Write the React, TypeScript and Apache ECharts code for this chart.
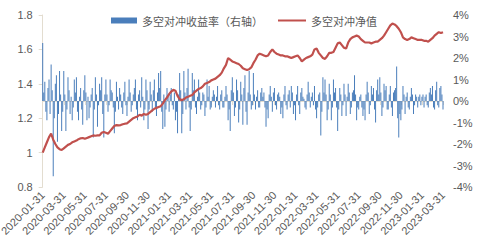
import React, { useEffect, useRef } from "react";
import * as echarts from "echarts";

const tickLabels = [
  "2020-01-31", "2020-03-31", "2020-05-31", "2020-07-31", "2020-09-30", "2020-11-30",
  "2021-01-31", "2021-03-31", "2021-05-31", "2021-07-31", "2021-09-30", "2021-11-30",
  "2022-01-31", "2022-03-31", "2022-05-31", "2022-07-31", "2022-09-30", "2022-11-30",
  "2023-01-31", "2023-03-31",
];
const barsPerLabel = 20;
const navPerLabel = 10;

const barName = "多空对冲收益率（右轴）";
const lineName = "多空对冲净值";

// hedge return, % (right axis); one row per two months
const hedgeReturn = [
  2.7, 0.4, 0.9, -0.5, -0.9, 0.6, 1.0, -0.6, 1.7, 0.5, -3.5, -0.8, 0.8, 1.2, -1.9, -0.6, 1.4, 0.3, -1.4, -0.5,
  1.4, 0.3, -1.4, -0.4, 1.1, 0.5, -0.6, 0.2, -0.9, -0.3, 1.0, 0.4, 1.1, -0.5, -0.9, 0.2, 0.6, -0.4, -1.1, 0.5,
  1.2, 0.4, -0.9, 0.2, -0.8, -0.3, 0.3, 0.6, -1.7, -0.4, 1.1, 0.3, -1.2, -0.2, 0.8, 0.5, 1.1, -0.6, -1.7, 0.3,
  1.0, 0.3, -0.5, -0.2, 1.0, 0.5, 0.4, -0.3, -1.5, -0.5, 0.9, 0.2, -0.4, 0.6, 0.3, -0.3, -0.6, 0.4, 0.9, -0.2,
  -0.7, 0.2, 1.0, 0.4, -0.5, -0.2, 0.3, 0.6, 1.0, -0.4, -0.9, 0.3, 0.5, -0.3, 1.1, 0.2, -0.9, -0.4, 1.0, 0.5,
  -1.3, -0.4, 0.9, 0.3, -0.5, 0.5, 1.0, -0.3, -0.7, 0.4, 1.3, 0.6, 1.4, -0.5, -1.3, 0.3, -1.2, -0.4, 0.6, 0.2,
  -0.5, 0.3, 0.6, -0.2, -0.4, 0.4, -0.9, -0.5, -1.5, 0.3, 1.3, 0.5, -1.5, -0.6, 1.4, 0.4, -0.4, 0.6, 1.5, -0.3,
  -1.4, -0.4, 1.3, 0.5, 1.0, -0.3, -0.6, 0.2, 1.0, 0.4, -0.4, -0.2, 0.4, 0.3, -0.7, -0.3, 1.0, 0.2, 0.7, -0.4,
  -0.3, 0.2, 0.5, 0.3, -0.3, 0.2, 0.7, -0.2, -0.4, 0.3, 0.5, -0.3, -0.3, 0.2, 0.7, 0.3, -0.9, -0.4, -1.4, 0.5,
  1.1, 0.4, -0.7, -0.3, 1.0, 0.5, -1.0, -0.4, 0.9, 0.3, -1.1, 0.6, 1.2, -0.5, -1.1, 0.4, 1.4, 0.3, -0.4, -0.2,
  1.3, 0.3, -0.4, 0.2, 0.5, -0.3, -0.3, 0.4, 0.6, 0.2, 0.4, -0.3, -1.2, -0.4, -0.8, 0.3, 0.7, 0.2, -0.5, 0.4,
  0.6, -0.2, -0.4, 0.3, 0.4, 0.2, -0.6, -0.3, -0.8, 0.3, 0.7, -0.2, -0.4, 0.3, 0.5, -0.3, 0.7, 0.4, -0.6, -0.2,
  -0.9, 0.3, 0.7, -0.2, -0.6, 0.4, 0.6, 0.2, 0.1, -0.3, -0.4, 0.3, 0.9, 0.4, -0.3, 0.2, 0.4, -0.2, 0.7, -0.4,
  -0.8, -0.3, 0.3, 0.4, -1.6, -0.5, 1.1, 0.4, 1.0, 0.3, -0.9, -0.4, 0.8, 0.3, -0.9, -0.3, 1.0, 0.4, 0.6, -0.3,
  -1.4, -0.4, 0.6, 0.3, -0.7, -0.2, 0.8, 0.3, -0.7, 0.2, 0.8, 0.4, -0.6, -0.3, 0.4, 0.5, 1.2, 0.3, -0.9, -0.3,
  -0.4, 0.2, 0.3, -0.3, -0.7, -0.4, -0.9, 0.3, 0.9, 0.4, -0.6, -0.2, 0.7, 0.3, 0.6, -0.4, -1.0, 0.5, 1.0, 0.3,
  1.1, 0.4, -0.7, -0.3, 0.8, 0.5, 0.7, -0.4, -0.4, 0.3, 0.7, -0.3, -0.7, 0.4, 0.5, 0.6, 1.6, -0.8, -1.7, -0.6,
  -0.9, -0.4, 0.7, 0.3, -0.6, 0.2, 0.4, -0.3, -0.4, 0.2, 0.6, 0.3, -0.6, -0.2, 0.3, 0.2, -0.3, 0.2, 0.3, -0.2,
  0.2, 0.3, -0.3, 0.2, 0.3, -0.2, -0.3, 0.4, 0.6, 0.3, 0.7, -0.3, -0.4, 0.5, 0.9, -0.2, -0.3, 0.6, 0.7, 0.3,
  -0.4,
];

// hedge net value (left axis); one row per two months
const hedgeNav = [
  1.0, 1.03, 1.06, 1.09, 1.11, 1.075, 1.05, 1.03, 1.02, 1.015,
  1.025, 1.035, 1.045, 1.05, 1.06, 1.065, 1.07, 1.078, 1.083, 1.085,
  1.08, 1.085, 1.09, 1.095, 1.1, 1.098, 1.1, 1.1, 1.115, 1.12,
  1.115, 1.11, 1.125, 1.14, 1.155, 1.16, 1.158, 1.16, 1.165, 1.168,
  1.17, 1.18, 1.19, 1.2, 1.205, 1.21, 1.22, 1.215, 1.225, 1.22,
  1.225, 1.235, 1.245, 1.255, 1.26, 1.265, 1.27, 1.285, 1.305, 1.32,
  1.34, 1.355, 1.365, 1.36, 1.33, 1.31, 1.305, 1.31, 1.32, 1.325,
  1.33, 1.335, 1.35, 1.36, 1.37, 1.375, 1.385, 1.4, 1.405, 1.41,
  1.42, 1.425, 1.43, 1.44, 1.45, 1.465, 1.49, 1.51, 1.55, 1.54,
  1.53, 1.525, 1.52, 1.515, 1.505, 1.49, 1.485, 1.48, 1.485, 1.495,
  1.52, 1.54, 1.565, 1.575, 1.57, 1.565, 1.56, 1.565, 1.585, 1.6,
  1.585, 1.575, 1.57, 1.565, 1.565, 1.56, 1.56, 1.555, 1.55, 1.555,
  1.56, 1.565, 1.55, 1.53, 1.54, 1.55, 1.555, 1.56, 1.57, 1.6,
  1.605, 1.58, 1.565, 1.55, 1.545, 1.56, 1.58, 1.58, 1.585, 1.61,
  1.635, 1.64, 1.625, 1.61, 1.605, 1.64, 1.66, 1.67, 1.675, 1.68,
  1.675, 1.66, 1.65, 1.64, 1.64, 1.64, 1.635, 1.64, 1.645, 1.645,
  1.655, 1.665, 1.68, 1.7, 1.72, 1.74, 1.75, 1.745, 1.735, 1.72,
  1.7, 1.67, 1.66, 1.655, 1.66, 1.67, 1.665, 1.66, 1.655, 1.655,
  1.655, 1.65, 1.65, 1.645, 1.655, 1.665, 1.68, 1.69, 1.7, 1.695,
  1.7,
];

const barCategories = hedgeReturn.map((_, i) =>
  i % barsPerLabel === 0 ? tickLabels[i / barsPerLabel] : ""
);
const navCategories = hedgeNav.map((_, i) =>
  i % navPerLabel === 0 ? tickLabels[i / navPerLabel] : ""
);

const axisColor = "#E3DDD0";
const textColor = "#595959";
const fontFamily = "Arial, 'Liberation Sans', sans-serif";
const cjkFont = "'Noto Sans CJK SC', sans-serif";

export default function App() {
  const ref = useRef<HTMLDivElement>(null);
  useEffect(() => {
    if (!ref.current) return;
    const chart = echarts.init(ref.current, null, { renderer: "svg" });
    chart.setOption({
      animation: false,
      backgroundColor: "#ffffff",
      textStyle: { fontFamily },
      legend: [
        {
          data: [barName],
          left: 106,
          top: 10,
          icon: "rect",
          itemWidth: 26,
          itemHeight: 6,
          textStyle: { color: textColor, fontSize: 11, fontFamily: cjkFont },
        },
        {
          data: [lineName],
          left: 273,
          top: 10,
          icon: "rect",
          itemWidth: 28,
          itemHeight: 2,
          textStyle: { color: textColor, fontSize: 11, fontFamily: cjkFont },
        },
      ],
      grid: {
        left: 42.7,
        right: 37,
        top: 15,
        bottom: 59,
        containLabel: false,
        outerBoundsMode: "none",
      },
      xAxis: [
        {
          type: "category",
          data: barCategories,
          boundaryGap: false,
          axisLine: { show: true, lineStyle: { color: axisColor, width: 1 } },
          axisTick: { show: true, interval: barsPerLabel - 1, length: 4, lineStyle: { color: axisColor } },
          axisLabel: {
            interval: barsPerLabel - 1,
            rotate: 45,
            color: textColor,
            fontSize: 11,
            margin: 6,
          },
          splitLine: { show: false },
        },
        {
          type: "category",
          data: navCategories,
          boundaryGap: false,
          show: false,
        },
      ],
      yAxis: [
        {
          type: "value",
          min: 0.8,
          max: 1.8,
          interval: 0.2,
          axisLine: { show: true, lineStyle: { color: axisColor } },
          axisTick: { show: true, length: 4, lineStyle: { color: axisColor } },
          axisLabel: { color: textColor, fontSize: 11, margin: 10 },
          splitLine: { show: false },
        },
        {
          type: "value",
          min: -4,
          max: 4,
          interval: 1,
          position: "right",
          axisLine: { show: false },
          axisTick: { show: false },
          axisLabel: { color: textColor, fontSize: 11, margin: 10, formatter: "{value}%" },
          splitLine: { show: false },
        },
      ],
      series: [
        {
          name: barName,
          type: "bar",
          xAxisIndex: 0,
          yAxisIndex: 1,
          data: hedgeReturn,
          barWidth: 1,
          itemStyle: { color: "#4A7EBB" },
          z: 2,
        },
        {
          name: lineName,
          type: "line",
          xAxisIndex: 1,
          yAxisIndex: 0,
          data: hedgeNav,
          showSymbol: false,
          symbol: "none",
          lineStyle: { color: "#C0504D", width: 2.2 },
          itemStyle: { color: "#C0504D" },
          z: 3,
        },
      ],
    });
    return () => chart.dispose();
  }, []);
  return (
    <div
      ref={ref}
      style={{ position: "fixed", left: 0, top: 0, width: 480, height: 246 }}
    />
  );
}
